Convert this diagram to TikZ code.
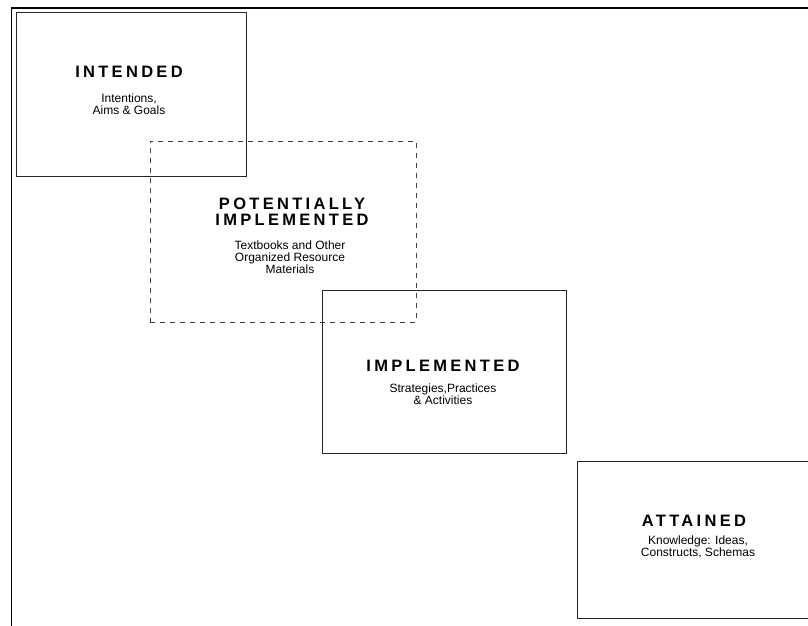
\documentclass[tikz,border=0pt]{standalone}
\usepackage{fontspec}
\setmainfont{Liberation Sans}
\newfontfamily\titlefont[LetterSpace=20]{Liberation Sans}
\begin{document}
\begin{tikzpicture}[x=1pt,y=-1pt,
  box/.style={draw=black!85,line width=1pt,rectangle,inner sep=0pt},
  dbox/.style={draw=black!75,line width=0.9pt,dash pattern=on 5pt off 5pt,rectangle,inner sep=0pt},
  ttl/.style={font=\titlefont\bfseries\fontsize{16.5}{16}\selectfont,inner sep=0pt,align=center},
  sub/.style={font=\fontsize{12}{12}\selectfont,inner sep=0pt,align=center}]
\useasboundingbox (0,0) rectangle (808,625);
\clip (0,0) rectangle (808,625);
% frame
\coordinate (fb) at (11.5,626);
\coordinate (ft) at (11.5,8);
\coordinate (fr) at (810,8);
\draw[line width=1.8pt] (fb) -- (ft) -- (fr);
% boxes
\node[box,minimum width=230,minimum height=164] (intended) at (131,94) {};
\node[dbox,minimum width=266,minimum height=181] (potential) at (283,231.5) {};
\node[box,minimum width=244,minimum height=163] (implemented) at (444.5,371.5) {};
\node[box,minimum width=260,minimum height=157] (attained) at (707,539.5) {};
% texts
\node[ttl] (t1) at (129,72) {INTENDED};
\node[sub] (s1) at (129,104) {Intentions,\\Aims \& Goals};
\node[ttl,align=center] (t2) at (292,212) {POTENTIALLY\\IMPLEMENTED};
\node[sub] (s2) at (290,257) {Textbooks and Other\\Organized Resource\\Materials};
\node[ttl] (t3) at (443,366) {IMPLEMENTED};
\node[sub] (s3) at (443,394) {Strategies,Practices\\\& Activities};
\node[ttl] (t4) at (694,521) {ATTAINED};
\node[sub] (s4) at (698,547) {Knowledge: Ideas,\\Constructs, Schemas};
\end{tikzpicture}
\end{document}
